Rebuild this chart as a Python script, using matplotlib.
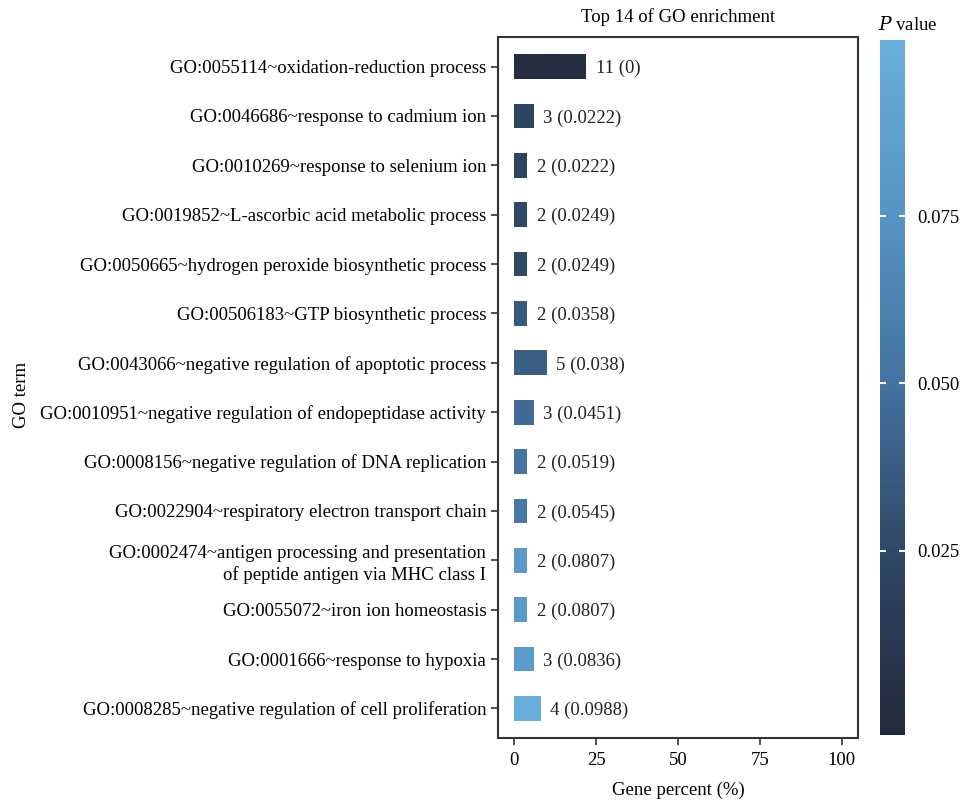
import numpy as np
import matplotlib.pyplot as plt
from matplotlib.colors import LinearSegmentedColormap, Normalize
from matplotlib.cm import ScalarMappable

plt.rcParams['font.family'] = ['Liberation Serif', 'DejaVu Serif']

terms = [
    'GO:0055114~oxidation-reduction process',
    'GO:0046686~response to cadmium ion',
    'GO:0010269~response to selenium ion',
    'GO:0019852~L-ascorbic acid metabolic process',
    'GO:0050665~hydrogen peroxide biosynthetic process',
    'GO:00506183~GTP biosynthetic process',
    'GO:0043066~negative regulation of apoptotic process',
    'GO:0010951~negative regulation of endopeptidase activity',
    'GO:0008156~negative regulation of DNA replication',
    'GO:0022904~respiratory electron transport chain',
    'GO:0002474~antigen processing and presentation\nof peptide antigen via MHC class I',
    'GO:0055072~iron ion homeostasis',
    'GO:0001666~response to hypoxia',
    'GO:0008285~negative regulation of cell proliferation',
]
counts = [11, 3, 2, 2, 2, 2, 5, 3, 2, 2, 2, 2, 3, 4]
pvalues = [0, 0.0222, 0.0222, 0.0249, 0.0249, 0.0358, 0.038, 0.0451,
           0.0519, 0.0545, 0.0807, 0.0807, 0.0836, 0.0988]
total_genes = 50

percent = np.array(counts) / total_genes * 100

cmap = LinearSegmentedColormap.from_list(
    'pblue', ['#232a3c', '#2e4663', '#44719f', '#5594c5', '#6aaedb'])
norm = Normalize(vmin=-0.0025, vmax=0.1013)

fs = 13.5

fig = plt.figure(figsize=(9.63, 8.01), dpi=100)
ax = fig.add_axes([498/963, 1 - 738/801, 360/963, 701/801])

y = np.arange(len(terms))
ax.barh(y, percent, height=0.5, color=cmap(norm(np.array(pvalues))))

for yi, w, c, p in zip(y, percent, counts, pvalues):
    ax.text(w + 2.8, yi, f'{c} ({p:g})', va='center_baseline', ha='left',
            fontsize=fs, color='#222222')

ax.set_xlim(-5, 105)
ax.set_ylim(len(terms) - 0.4, -0.6)
ax.set_xticks([0, 25, 50, 75, 100])
ax.set_yticks(y)
ax.set_yticklabels(terms, fontsize=fs, ha='right', linespacing=1.3,
                   va='center_baseline')
ax.tick_params(axis='x', labelsize=fs, length=5, width=1.2, color='#333333', pad=5)
ax.tick_params(axis='y', length=5, width=1.2, color='#333333')
for s in ax.spines.values():
    s.set_linewidth(1.5)
    s.set_color('#333333')

ax.set_xlabel('Gene percent (%)', fontsize=fs, labelpad=9)
ax.set_ylabel('GO term', fontsize=fs)
ax.yaxis.set_label_coords(-1.3, 0.49)
ax.set_title('Top 14 of GO enrichment', fontsize=fs, pad=11)

# colour bar for P value
cax = fig.add_axes([880/963, 1 - 735/801, 25/963, 695/801])
sm = ScalarMappable(norm=norm, cmap=cmap)
cbar = fig.colorbar(sm, cax=cax, ticks=[0.025, 0.05, 0.075])
cbar.outline.set_visible(False)
cbar.ax.set_yticklabels(['0.025', '0.050', '0.075'], fontsize=fs)
cbar.ax.yaxis.set_ticks_position('both')
cbar.ax.tick_params(direction='in', color='white', length=4, width=1.5, pad=9)
fig.text(908/963, 1 - 25/801, r'$P$ value', fontsize=fs, ha='center', va='center',
         math_fontfamily='dejavuserif')

fig.savefig('out.png', dpi=100)
